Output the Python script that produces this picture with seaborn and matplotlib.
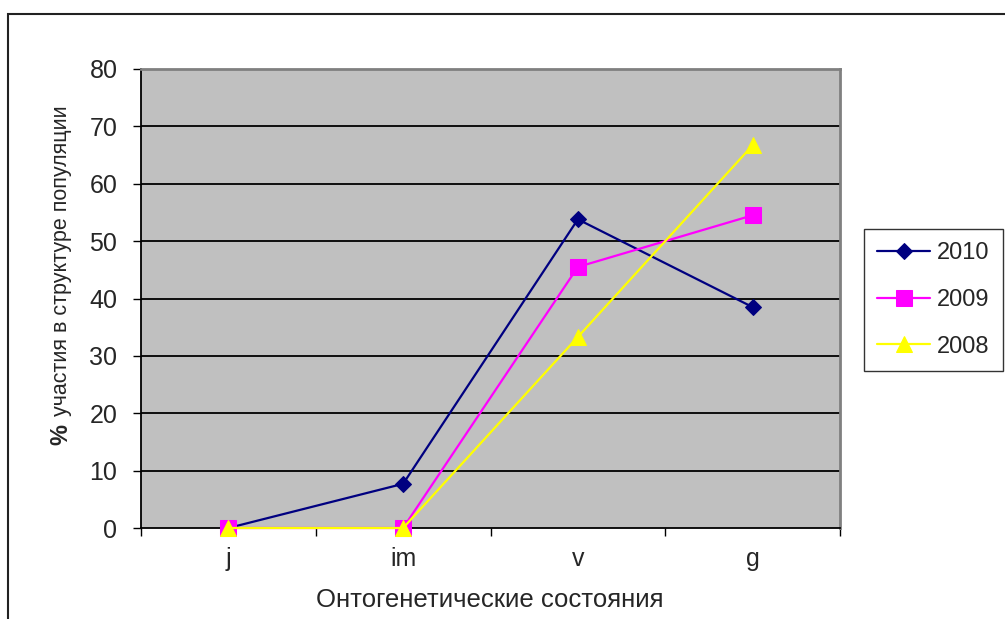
import matplotlib
matplotlib.use("Agg")
import matplotlib.pyplot as plt
import seaborn as sns
import pandas as pd
from matplotlib.patches import Rectangle

categories = ["j", "im", "v", "g"]
years = ["2010", "2009", "2008"]
values_2010 = [0, 7.7, 53.8, 38.5]
values_2009 = [0, 0, 45.5, 54.5]
values_2008 = [0, 0, 33.3, 66.7]
y_ticks = [0, 10, 20, 30, 40, 50, 60, 70, 80]

series = {"2010": values_2010, "2009": values_2009, "2008": values_2008}
rows = []
for yr in years:
    for i, (c, v) in enumerate(zip(categories, series[yr])):
        rows.append({"pos": i, "cat": c, "year": yr, "value": v})
df = pd.DataFrame(rows)

sns.set_style("white")
plt.rcParams["font.family"] = ["Liberation Sans", "DejaVu Sans"]

fig = plt.figure(figsize=(10.05, 6.19), dpi=100)
ax = fig.add_axes([141/1005, 1-528/619, (840-141)/1005, (528-69)/619])
ax.set_facecolor("#C0C0C0")

palette = {"2010": "#000080", "2009": "#FF00FF", "2008": "#FFFF00"}
markers = {"2010": "D", "2009": "s", "2008": "^"}
msizes = {"2010": 8, "2009": 11, "2008": 11}
for yr in years:
    sub = df[df["year"] == yr]
    sns.lineplot(data=sub, x="pos", y="value", ax=ax, color=palette[yr],
                 marker=markers[yr], markersize=msizes[yr], markeredgecolor=palette[yr],
                 linewidth=1.6, label=yr, zorder=3, clip_on=False)

ax.set_xlim(-0.5, 3.5)
ax.set_ylim(0, 80)
ax.set_yticks(y_ticks)
ax.set_yticklabels([str(t) for t in y_ticks], fontsize=18)
for t in y_ticks[1:-1]:
    ax.axhline(t, color="black", linewidth=1.3, zorder=1)

ax.set_xticks([-0.5, 0.5, 1.5, 2.5, 3.5])
ax.set_xticklabels([])
ax.set_xticks(range(len(categories)), minor=True)
ax.set_xticklabels(categories, minor=True, fontsize=18)
ax.tick_params(axis="x", which="major", direction="out", length=6, width=1, color="black", bottom=True)
ax.tick_params(axis="x", which="minor", length=0, pad=14)
ax.tick_params(axis="y", direction="out", length=6, width=1, color="black", left=True, pad=11)

for s in ["left", "bottom"]:
    ax.spines[s].set_color("black")
    ax.spines[s].set_linewidth(1.3)
for s in ["top", "right"]:
    ax.spines[s].set_color("#808080")
    ax.spines[s].set_linewidth(2)

ax.set_xlabel("")
ax.set_ylabel("")
fig.text(490/1005, 1-600/619, "Онтогенетические состояния", fontsize=18.5,
         ha="center", va="center")

fig.text(61/1005, 1-445/619, "%", rotation=90, fontsize=17, fontweight="bold",
         ha="center", va="bottom")
fig.text(61/1005, 1-416/619, "участия в структуре популяции", rotation=90, fontsize=15.5,
         ha="center", va="bottom")

leg = ax.legend(loc="upper left", bbox_to_anchor=(864/1005, 1-229/619),
                bbox_transform=fig.transFigure, fontsize=17, frameon=True,
                fancybox=False, edgecolor="black", handlelength=2.25,
                labelspacing=1.05, borderpad=0.55, handletextpad=0.3,
                borderaxespad=0)
leg.get_frame().set_linewidth(1)
leg.get_frame().set_facecolor("white")

fig.patches.append(Rectangle((7.5/1005, -0.05), 1.1, 1-13.5/619+0.05,
                             transform=fig.transFigure, fill=False,
                             edgecolor="#222222", linewidth=1.5, clip_on=False))

fig.savefig("out.png", dpi=100)
